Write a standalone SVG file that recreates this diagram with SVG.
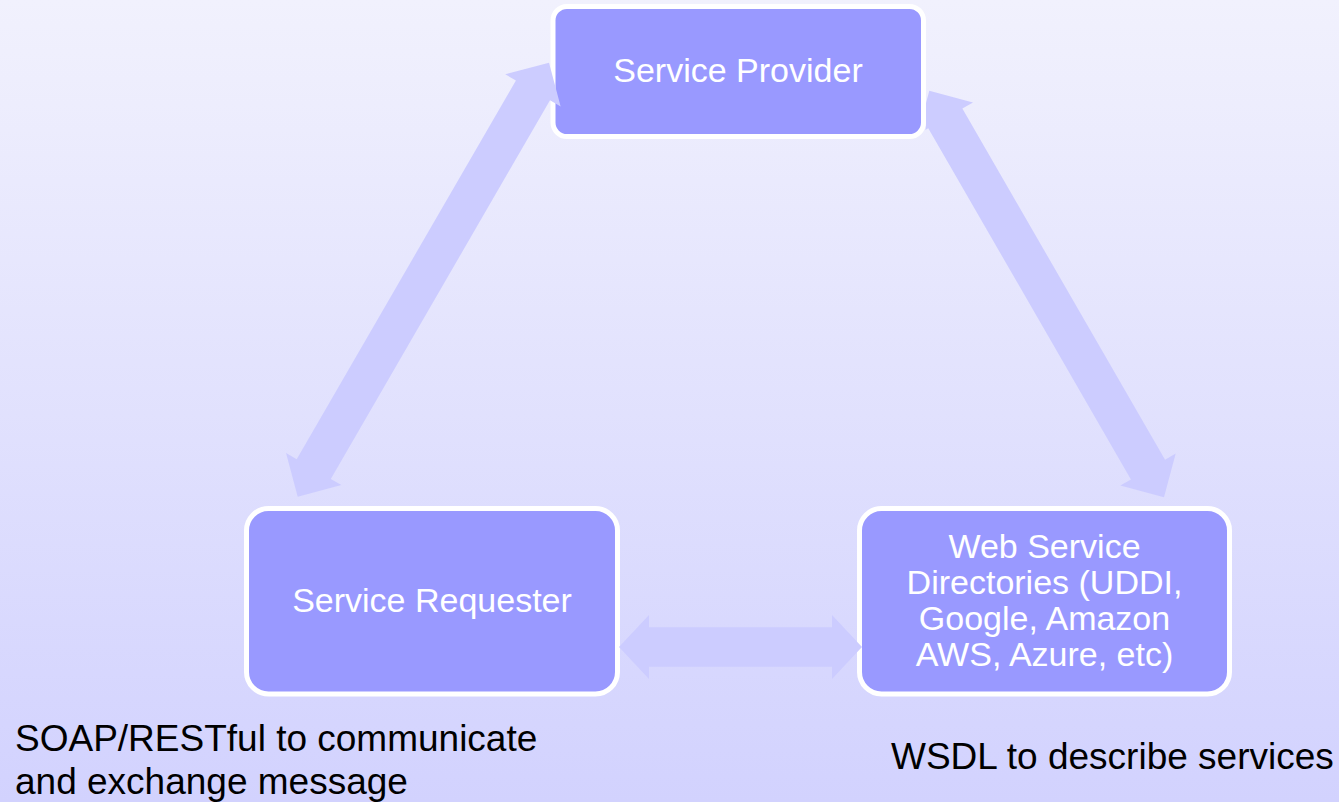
<svg xmlns="http://www.w3.org/2000/svg" width="1339" height="802" viewBox="0 0 1339 802">
  <defs>
    <linearGradient id="bg" x1="0" y1="0" x2="0" y2="1">
      <stop offset="0" stop-color="#f1f1fd"/>
      <stop offset="1" stop-color="#d2d2fe"/>
    </linearGradient>
    <!-- everything except the Service Provider box, so the right arrow passes behind it -->
    <clipPath id="behind-provider">
      <path clip-rule="evenodd" d="M0 0H1339V802H0Z M564.5 4H912Q926 4 926 18V125Q926 139 912 139H564.5Q550.5 139 550.5 125V18Q550.5 4 564.5 4Z"/>
    </clipPath>
    <style>
      .box { fill: #9999ff; stroke: #ffffff; stroke-width: 5; }
      .label { font-family: "Liberation Sans", Arial, sans-serif; font-size: 34px; fill: #ffffff; text-anchor: middle; }
      .note { font-family: "Liberation Sans", Arial, sans-serif; font-size: 37px; fill: #000000; }
      .arrow { fill: #ccccff; }
    </style>
  </defs>

  <rect x="0" y="0" width="1339" height="802" fill="url(#bg)"/>

  <g id="service-provider">
    <rect class="box" x="553" y="6.5" width="370.5" height="130" rx="14" ry="14"/>
    <text class="label" x="738" y="82">Service Provider</text>
  </g>

  <g id="service-requester">
    <rect class="box" x="246.5" y="508.5" width="371" height="185.5" rx="22" ry="22"/>
    <text class="label" x="432" y="612">Service Requester</text>
  </g>

  <g id="web-service-directories">
    <rect class="box" x="859.5" y="508.5" width="370" height="185.5" rx="22" ry="22"/>
    <text class="label" x="1044.5" y="558">Web Service</text>
    <text class="label" x="1044.5" y="594">Directories (UDDI,</text>
    <text class="label" x="1044.5" y="630">Google, Amazon</text>
    <text class="label" x="1044.5" y="666">AWS, Azure, etc)</text>
  </g>

  <g id="connectors">
    <!-- provider <-> requester -->
    <polygon class="arrow" points="549,62.7 560.65,106.43 550.01,100.26 330.79,478.88 341.43,485.05 297.7,496.7 286.05,452.97 296.69,459.14 515.91,80.52 505.27,74.35"/>
    <!-- provider <-> directories -->
    <polygon class="arrow" clip-path="url(#behind-provider)" points="929.3,90.7 973.01,102.41 962.36,108.56 1165.06,459.74 1175.71,453.59 1164,497.3 1120.29,485.59 1130.94,479.44 928.24,128.26 917.59,134.41"/>
    <!-- requester <-> directories -->
    <polygon class="arrow" points="619,647 649,615 649,627.3 832,627.3 832,615 862,647 832,679 832,666.7 649,666.7 649,679"/>
  </g>

  <g id="notes">
    <text class="note" x="15" y="751">SOAP/RESTful to communicate</text>
    <text class="note" x="15" y="794">and exchange message</text>
    <text class="note" x="891" y="769">WSDL to describe services</text>
  </g>
</svg>
